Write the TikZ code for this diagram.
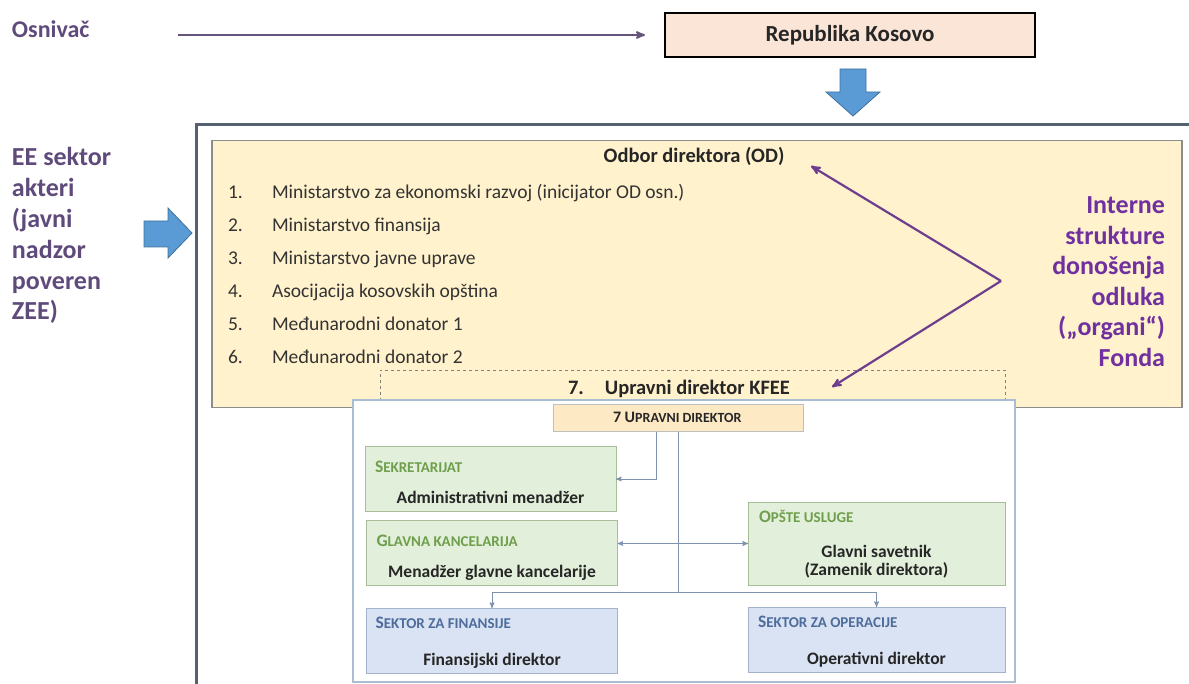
\documentclass[tikz,border=0pt]{standalone}
\usepackage{fontspec}
\setmainfont{Carlito}
\usepackage{xcolor}
\usepackage{tikz}
\usetikzlibrary{arrows}
\usetikzlibrary{calc}

\definecolor{sidepurple}{HTML}{5F4B7B}
\definecolor{organpurple}{HTML}{7030A0}
\definecolor{pointpurple}{HTML}{6E3E8E}
\definecolor{kosfill}{HTML}{FBE5D6}
\definecolor{odfill}{HTML}{FFF2CC}
\definecolor{odedge}{HTML}{8C8C8C}
\definecolor{bluefill}{HTML}{5B9BD5}
\definecolor{blueedge}{HTML}{41719C}
\definecolor{framegray}{HTML}{56616F}
\definecolor{paneledge}{HTML}{A9BDD3}
\definecolor{headfill}{HTML}{FDE9C4}
\definecolor{greenfill}{HTML}{E2EFDA}
\definecolor{greenedge}{HTML}{A8BE9A}
\definecolor{greentext}{HTML}{6F9F4C}
\definecolor{unitfill}{HTML}{DAE3F3}
\definecolor{unitedge}{HTML}{A3B3C9}
\definecolor{unittext}{HTML}{4E6C9C}
\definecolor{linkblue}{HTML}{7D93AD}
\definecolor{inktext}{HTML}{262626}

% small caps made by hand
\newcommand{\hcap}[2]{{\fontsize{17.5}{18}\selectfont #1}{\fontsize{15}{18}\selectfont #2}}

\begin{document}
\begin{tikzpicture}[x=1pt, y=-1pt,
      every node/.style={inner sep=0pt, outer sep=0pt},
      side text/.style={font=\fontsize{26}{30.8}\selectfont\bfseries, text=sidepurple, align=left, anchor=base west},
      organ text/.style={font=\fontsize{26}{30.6}\selectfont\bfseries, text=organpurple, align=right, anchor=base east},
      state box/.style={draw=black, line width=1.8pt, fill=kosfill, minimum width=370pt, minimum height=44pt,
        font=\fontsize{23}{28}\selectfont\bfseries, text=inktext},
      board box/.style={draw=odedge, line width=1.4pt, fill=odfill, minimum width=970pt, minimum height=267pt},
      dashed frame/.style={draw=gray, dashed, line width=0.9pt, minimum width=625pt, minimum height=42pt},
      board title/.style={font=\fontsize{20.5}{24}\selectfont\bfseries, text=inktext, anchor=base},
      list num/.style={font=\fontsize{19.5}{22}\selectfont, text=black!80, anchor=base west},
      chart panel/.style={draw=paneledge, line width=1.2pt, fill=white, minimum width=662pt, minimum height=282pt},
      head box/.style={draw=black!25, line width=1pt, fill=headfill, minimum width=250pt, minimum height=27pt},
      green box/.style={draw=greenedge, line width=1pt, fill=greenfill, minimum width=251pt},
      unit box/.style={draw=unitedge, line width=1pt, fill=unitfill, minimum width=251pt},
      unit head/.style={font=\bfseries, anchor=base west},
      unit name/.style={font=\fontsize{17.5}{18}\selectfont\bfseries, text=inktext, anchor=base, align=center},
      link/.style={draw=linkblue, line width=1pt, >=stealth'},
      pointer/.style={draw=pointpurple, line width=2.2pt, ->, >=stealth'},
      big arrow/.style={fill=bluefill, draw=blueedge, line width=0.8pt},
      outer frame/.style={draw=framegray, line width=3pt}
      ]
      \useasboundingbox (0,0) rectangle (1189,684);
      \clip (0,0) rectangle (1189,684);

      % founder
      \node[side text, font=\fontsize{24}{28}\selectfont\bfseries] (osn) at (12,38) {Osnivač};
      \node[state box] (repko) at (850,35) {Republika Kosovo};
      \draw[sidepurple!80!gray, line width=2pt, ->, >=stealth', shorten <=89pt, shorten >=20pt] (osn.east |- repko.west) -- (repko.west);
      \filldraw[big arrow] (840,69) -- (866,69) -- (866,92) -- (880,92) -- (853,116) -- (826,92) -- (840,92) -- cycle;

      % actors on the left (base = last line)
      \node[side text] (actors) at (12,320) {EE sektor\\akteri\\(javni\\nadzor\\poveren\\ZEE)};
      \filldraw[big arrow] (144,221) -- (168,221) -- (168,208) -- (192,233) -- (168,258) -- (168,247) -- (144,247) -- cycle;
      \draw[outer frame] (196,700) |- (1200,125);

      % board
      \node[board box] (od) at (697,274) {};
      \node[board title] (odtitle) at (694,162.5) {Odbor direktora (OD)};
      \foreach \i/\txt in {1/{Ministarstvo za ekonomski razvoj (inicijator OD osn.)},
                           2/{Ministarstvo finansija},
                           3/{Ministarstvo javne uprave},
                           4/{Asocijacija kosovskih opština},
                           5/{Međunarodni donator 1},
                           6/{Međunarodni donator 2}} {
        \node[list num] (num\i) at (228,{198.5+33*(\i-1)}) {\i.};
        \node[list num] (item\i) at (272,{198.5+33*(\i-1)}) {\txt};
      }
      \node[dashed frame] (kfee) at (692.5,391) {};
      \node[board title, anchor=base west] (kfeetitle) at (568,394.5) {7.\hspace{21pt}Upravni direktor KFEE};

      % organs
      \node[organ text] (organi) at (1165,366.5) {Interne\\strukture\\donošenja\\odluka\\(„organi“)\\Fonda};
      \coordinate (vtx) at (1001,281);
      \coordinate (odtip) at (811,166);
      \coordinate (kfeetip) at (832,387);
      \draw[pointer] (vtx) -- (odtip);
      \draw[pointer] (vtx) -- (kfeetip);

      % org chart
      \node[chart panel] (org) at (684,541) {};
      \node[head box] (upr) at (678,418.5) {};
      \node[unit head, text=inktext, font=\fontsize{14}{16}\selectfont\bfseries] (uprtxt) at (613,423) {{\fontsize{16}{16}\selectfont 7 U}PRAVNI DIREKTOR};

      \node[green box, minimum height=64pt] (sekr) at (490.5,479) {};
      \node[unit head, text=greentext] at ([shift={(10,25)}]sekr.north west) {\hcap{S}{EKRETARIJAT}};
      \node[unit name] at ([shift={(0,-8)}]sekr.south) {Administrativni menadžer};

      \node[green box, minimum height=65pt] (glavna) at (492,552.5) {};
      \node[unit head, text=greentext] at ([shift={(10,26)}]glavna.north west) {\hcap{G}{LAVNA KANCELARIJA}};
      \node[unit name] at ([shift={(0,-8)}]glavna.south) {Menadžer glavne kancelarije};

      \node[green box, minimum width=257pt, minimum height=83pt] (opste) at (876.5,543.5) {};
      \node[unit head, text=greentext] at ([shift={(11,20)}]opste.north west) {\hcap{O}{PŠTE USLUGE}};
      \node[unit name] at ([shift={(0,-10)}]opste.south) {Glavni savetnik\\(Zamenik direktora)};

      \node[unit box, minimum height=65pt] (finans) at (492,640.5) {};
      \node[unit head, text=unittext] at ([shift={(9,20)}]finans.north west) {\hcap{S}{EKTOR ZA FINANSIJE}};
      \node[unit name] at ([shift={(0,-8)}]finans.south) {Finansijski direktor};

      \node[unit box, minimum width=257pt, minimum height=65pt] (oper) at (876.5,639.5) {};
      \node[unit head, text=unittext] at ([shift={(10,20)}]oper.north west) {\hcap{S}{EKTOR ZA OPERACIJE}};
      \node[unit name] at ([shift={(0,-8)}]oper.south) {Operativni direktor};

      \coordinate (split) at (678,592);
      \draw[link, ->] ([xshift=-22pt]upr.south) |- (sekr.east);
      \draw[link] (upr.south) -- (split);
      \draw[link, <->] (glavna.east |- opste.west) -- (opste.west);
      \draw[link, ->] (split) -| (finans.north);
      \draw[link, ->] (split) -| (oper.north);
    \end{tikzpicture}
\end{document}
